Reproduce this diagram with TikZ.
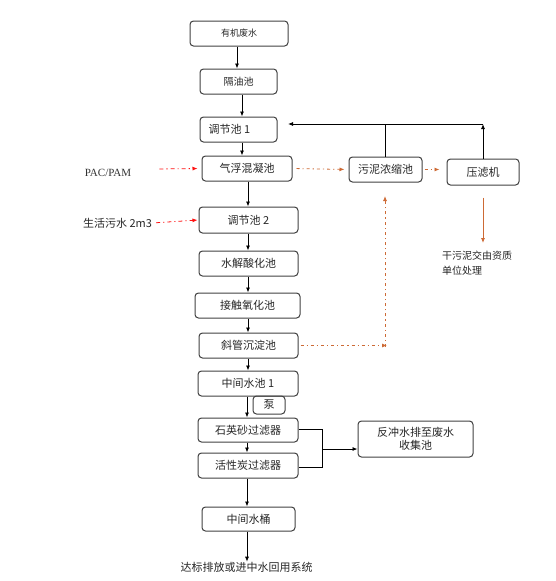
\documentclass[tikz,border=0pt]{standalone}
\usepackage{fontspec}
\setmainfont{Liberation Serif}
\newfontfamily\cjk{Noto Sans CJK SC}
\usetikzlibrary{arrows.meta,calc}
\definecolor{boxline}{HTML}{404040}
\definecolor{sludge}{HTML}{CD6A35}
\definecolor{dosing}{HTML}{FF1010}
\tikzset{
  box/.style={draw=boxline,line width=1pt,rounded corners=3.5pt,inner sep=0pt,font=\cjk\fontsize{11}{13}\selectfont,text=black!85},
  arr/.style={line width=0.8pt,-{Latex[length=5pt,width=4pt]}},
  plain/.style={line width=0.8pt},
  reddash/.style={dosing,line width=0.8pt,dash pattern=on 4pt off 3pt on 1.2pt off 3pt,-{Latex[length=5pt,width=4pt]}},
  browndash/.style={draw=sludge,line width=0.8pt,dash pattern=on 3pt off 3pt on 1.2pt off 3pt,-{Latex[length=5pt,width=4pt]}},
  lbl/.style={inner sep=0pt,font=\cjk\fontsize{11}{13}\selectfont,text=black!85}
}
\begin{document}
\begin{tikzpicture}[x=1pt,y=-1pt]
\useasboundingbox (0,0) rectangle (555,581);
% main column
\node[box,minimum width=98pt,minimum height=25pt,font=\cjk\fontsize{9}{11}\selectfont] (n1) at (239,33.5) {有机废水};
\node[box,minimum width=77pt,minimum height=25pt,font=\cjk\fontsize{10}{12}\selectfont] (n2) at (238.5,81.5) {隔油池};
\node[box,minimum width=77pt,minimum height=25pt] (n3) at (238.5,129.5) {\hspace*{-18pt}调节池 1};
\node[box,minimum width=90pt,minimum height=25pt] (n4) at (247,168.5) {气浮混凝池};
\node[box,minimum width=73pt,minimum height=25pt] (n5) at (385.5,169.5) {污泥浓缩池};
\node[box,minimum width=72pt,minimum height=26pt] (n6) at (483,172) {压滤机};
\node[box,minimum width=99pt,minimum height=26pt] (n7) at (248.5,220) {调节池 2};
\node[box,minimum width=99pt,minimum height=25pt] (n8) at (248.5,263.5) {水解酸化池};
\node[box,minimum width=105pt,minimum height=25pt] (n9) at (247.5,305.5) {接触氧化池};
\node[box,minimum width=99pt,minimum height=25pt] (n10) at (248.5,345.5) {斜管沉淀池};
\node[box,minimum width=100pt,minimum height=25pt] (n11) at (248,383.5) {中间水池 1};
\node[box,minimum width=32pt,minimum height=18pt] (pump) at (269,405) {泵};
\node[box,minimum width=100pt,minimum height=24pt] (n12) at (248,430) {石英砂过滤器};
\node[box,minimum width=100pt,minimum height=25pt] (n13) at (248,465.5) {活性炭过滤器};
\node[box,minimum width=115pt,minimum height=36pt,align=center] (n14) at (415.5,439) {反冲水排至废水\\收集池};
\node[box,minimum width=93pt,minimum height=24pt] (n15) at (248.5,519) {中间水桶};
\node[lbl] (out) at (246.5,567) {达标排放或进中水回用系统};
% side labels
\node[inner sep=0pt,font=\fontsize{11}{13}\selectfont,text=black!80] (pac) at (108,173) {PAC/PAM};
\node[lbl] (life) at (117.5,223) {生活污水 2m3};
\node[lbl,anchor=north west,align=left,font=\cjk\fontsize{10}{15}\selectfont] (dry) at (442,251) {干污泥交由资质\\单位处理};
% main flow arrows
\draw[arr] (237,0 |- n1.south) -- (237,0 |- n2.north);
\draw[arr] (242,0 |- n2.south) -- (242,0 |- n3.north);
\draw[arr] (242,0 |- n3.south) -- (242,0 |- n4.north);
\draw[arr] (248,0 |- n4.south) -- (248,0 |- n7.north);
\draw[arr] (248,0 |- n7.south) -- (248,0 |- n8.north);
\draw[arr] (248,0 |- n8.south) -- (248,0 |- n9.north);
\draw[arr] (248,0 |- n9.south) -- (248,0 |- n10.north);
\draw[arr] (248,0 |- n10.south) -- (248,0 |- n11.north);
\draw[arr] (247,0 |- n11.south) -- (247,0 |- n12.north);
\draw[arr] (247,0 |- n12.south) -- (247,0 |- n13.north);
\draw[arr] (247,0 |- n13.south) -- (247,0 |- n15.north);
\draw[arr] (247,0 |- n15.south) -- (247,0 |- out.north);
% backwash
\coordinate (bt) at (322,429);
\coordinate (bb) at (322,467);
\coordinate (bm) at (322,449);
\draw[plain] (n12.east |- bt) -- (bt) -- (bb) -- (n13.east |- bb);
\draw[arr] (bm) -- (n14.west |- bm);
% filtrate return
\coordinate (top6) at (483,124);
\coordinate (ret) at (288,124);
\draw[arr] (n6.north) -- (top6);
\draw[arr] (top6) -- (ret);
\draw[plain] (n5.north) -- (n5.north |- top6);
% dosing
\draw[reddash,shorten <=4pt,shorten >=4pt] ($(pac.east)+(24,-4)$) -- (n4.west);
\draw[reddash,shorten <=4pt,shorten >=1pt] (life.east) -- (n7.west);
% sludge lines
\draw[browndash,shorten <=4pt,shorten >=4pt] (n4.east) -- (n5.west);
\draw[browndash,shorten <=2pt,shorten >=7pt] (n5.east) -- (n6.west |- n5.east);
\coordinate (sc) at (387,345.5);
\coordinate (sv) at (385,347);
\coordinate (su) at (385,196);
\draw[browndash,shorten <=2pt] (n10.east) -- (sc);
\draw[browndash] (sv) -- (su);
\draw[sludge,line width=0.8pt,-{Latex[length=5pt,width=4pt]},shorten <=12pt] (n6.south) -- (483,243);
\end{tikzpicture}
\end{document}
